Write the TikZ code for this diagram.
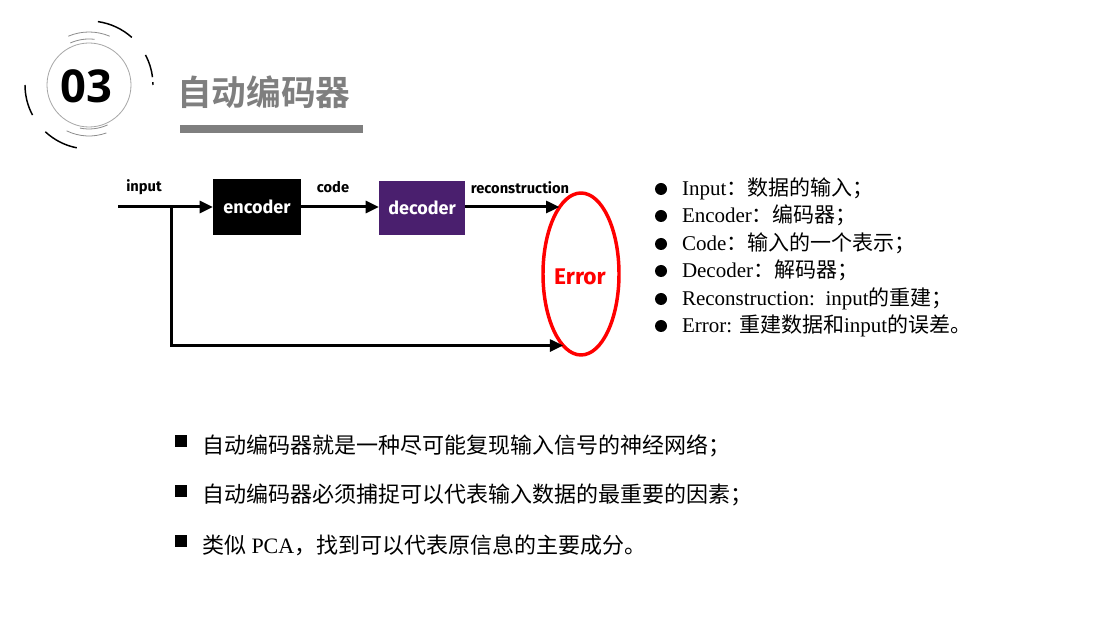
\documentclass[tikz,border=0pt]{standalone}
\usepackage{fontspec}
\usetikzlibrary{arrows.meta,shapes.geometric}
\setmainfont{Liberation Serif}
\newfontfamily\zh{Noto Sans CJK SC}
\newfontfamily\zhb{Noto Sans CJK SC Bold}
\newfontfamily\dg{Fira Sans}
\newfontfamily\numf{Open Sans}
\definecolor{titlegray}{HTML}{7F7F7F}
\definecolor{decpurple}{HTML}{4A1F6E}
\definecolor{errred}{HTML}{FF0000}
\tikzset{
  every node/.style={inner sep=0pt, outer sep=0pt},
  conn/.style={line width=2.25pt, -{Triangle[length=10pt,width=9pt]}},
  plainline/.style={line width=2.25pt},
  blockbox/.style={minimum width=66pt, minimum height=42pt, text=white,
    font=\dg\bfseries\fontsize{13.5}{15}\selectfont},
  flowlabel/.style={font=\dg\bfseries\fontsize{11}{13}\selectfont},
  rbullet/.style={circle, fill=black, minimum size=9pt},
  sqbullet/.style={rectangle, fill=black, minimum size=9pt},
  rtext/.style={anchor=base west, font=\fontsize{15.75}{18}\selectfont},
  btext/.style={anchor=base west, font=\fontsize{16.5}{19}\selectfont},
  blackarc/.style={line width=1.1pt, black},
  grayarc/.style={line width=0.6pt, black!45},
}
\begin{document}
\begin{tikzpicture}[x=0.75pt, y=-0.75pt]
\useasboundingbox[fill=white] (0,0) rectangle (1096,630);

% ---- number badge ----
\coordinate (c) at (89,85);
\draw[grayarc, black!35] (c) circle[radius=42];
\draw[grayarc] ([shift={(c)}]-67:53) arc[start angle=-67, end angle=-113, radius=53];
\draw[grayarc] ([shift={(c)}]-83:46) arc[start angle=-83, end angle=-114, radius=46];
\draw[grayarc] ([shift={(c)}]-244:51) arc[start angle=-244, end angle=-290, radius=51];
\draw[grayarc] ([shift={(c)}]-258:44) arc[start angle=-258, end angle=-295, radius=44];
\draw[blackarc] ([shift={(c)}]-48:64) arc[start angle=-48, end angle=-82, radius=64];
\draw[blackarc] ([shift={(c)}]-7:64) arc[start angle=-7, end angle=-28, radius=64];
\draw[blackarc] ([shift={(c)}]0:64) arc[start angle=0, end angle=-2.5, radius=64];
\draw[blackarc] ([shift={(c)}]-180:64) arc[start angle=-180, end angle=-208, radius=64];
\draw[blackarc] ([shift={(c)}]-227:64) arc[start angle=-227, end angle=-259, radius=64];
\node[anchor=base, font=\numf\bfseries\fontsize{34}{36}\selectfont] (num) at (86,103) {03};

% ---- title ----
\node[anchor=base west, text=titlegray, font=\zhb\fontsize{26}{30}\selectfont] (title) at (177,106) {自动编码器};
\fill[titlegray] (180,125) rectangle (363,133);

% ---- diagram ----
\node[blockbox, fill=black] (enc) at (257,207) {encoder};
\node[blockbox, fill=decpurple, minimum width=64.5pt, minimum height=40.5pt] (dec) at (422,208) {decoder};
\node[ellipse, draw=errred, line width=2.6pt, minimum width=57pt, minimum height=121.5pt] (err) at (581,274) {};
\node[text=errred, font=\dg\bfseries\fontsize{17}{19}\selectfont] (errtxt) at (580,277) {Error};

\coordinate (in) at (118,207);
\coordinate (br) at (171,207);
\draw[plainline] (in) -- (br);
\draw[conn] (br) -- (enc.west);
\draw[conn] (enc.east) -- (enc.east -| dec.west);
\draw[conn] (dec.east |- enc.east) -- (enc.east -| err.108);
\draw[conn] (br) |- (err.256);

\node[flowlabel] (lin) at (144,187) {input};
\node[flowlabel] (lcode) at (333,187) {code};
\node[flowlabel] (lrec) at (520,188) {reconstruction};

% ---- right list ----
\node[rbullet] (b1) at (661,189) {};
\node[rbullet] (b2) at (661,216) {};
\node[rbullet] (b3) at (661,244) {};
\node[rbullet] (b4) at (661,271) {};
\node[rbullet] (b5) at (661,299) {};
\node[rbullet] (b6) at (661,326) {};
\node[rtext] (t1) at (682,196) {Input{\zh ：数据的输入；}};
\node[rtext] (t2) at (682,223) {Encoder{\zh ：编码器；}};
\node[rtext] (t3) at (682,251) {Code{\zh ：输入的一个表示；}};
\node[rtext] (t4) at (682,278) {Decoder{\zh ：解码器；}};
\node[rtext] (t5) at (682,306) {Reconstruction:\ \ input{\zh 的重建；}};
\node[rtext] (t6) at (682,333) {Error: {\zh 重建数据和}input{\zh 的误差。}};

% ---- bottom list ----
\node[sqbullet] (s1) at (181,441) {};
\node[sqbullet] (s2) at (181,491) {};
\node[sqbullet] (s3) at (181,541) {};
\node[btext] (u1) at (202,454) {\zh 自动编码器就是一种尽可能复现输入信号的神经网络；};
\node[btext] (u2) at (202,503) {\zh 自动编码器必须捕捉可以代表输入数据的最重要的因素；};
\node[btext] (u3) at (202,553) {{\zh 类似} PCA{\zh ，找到可以代表原信息的主要成分。}};
\end{tikzpicture}
\end{document}
